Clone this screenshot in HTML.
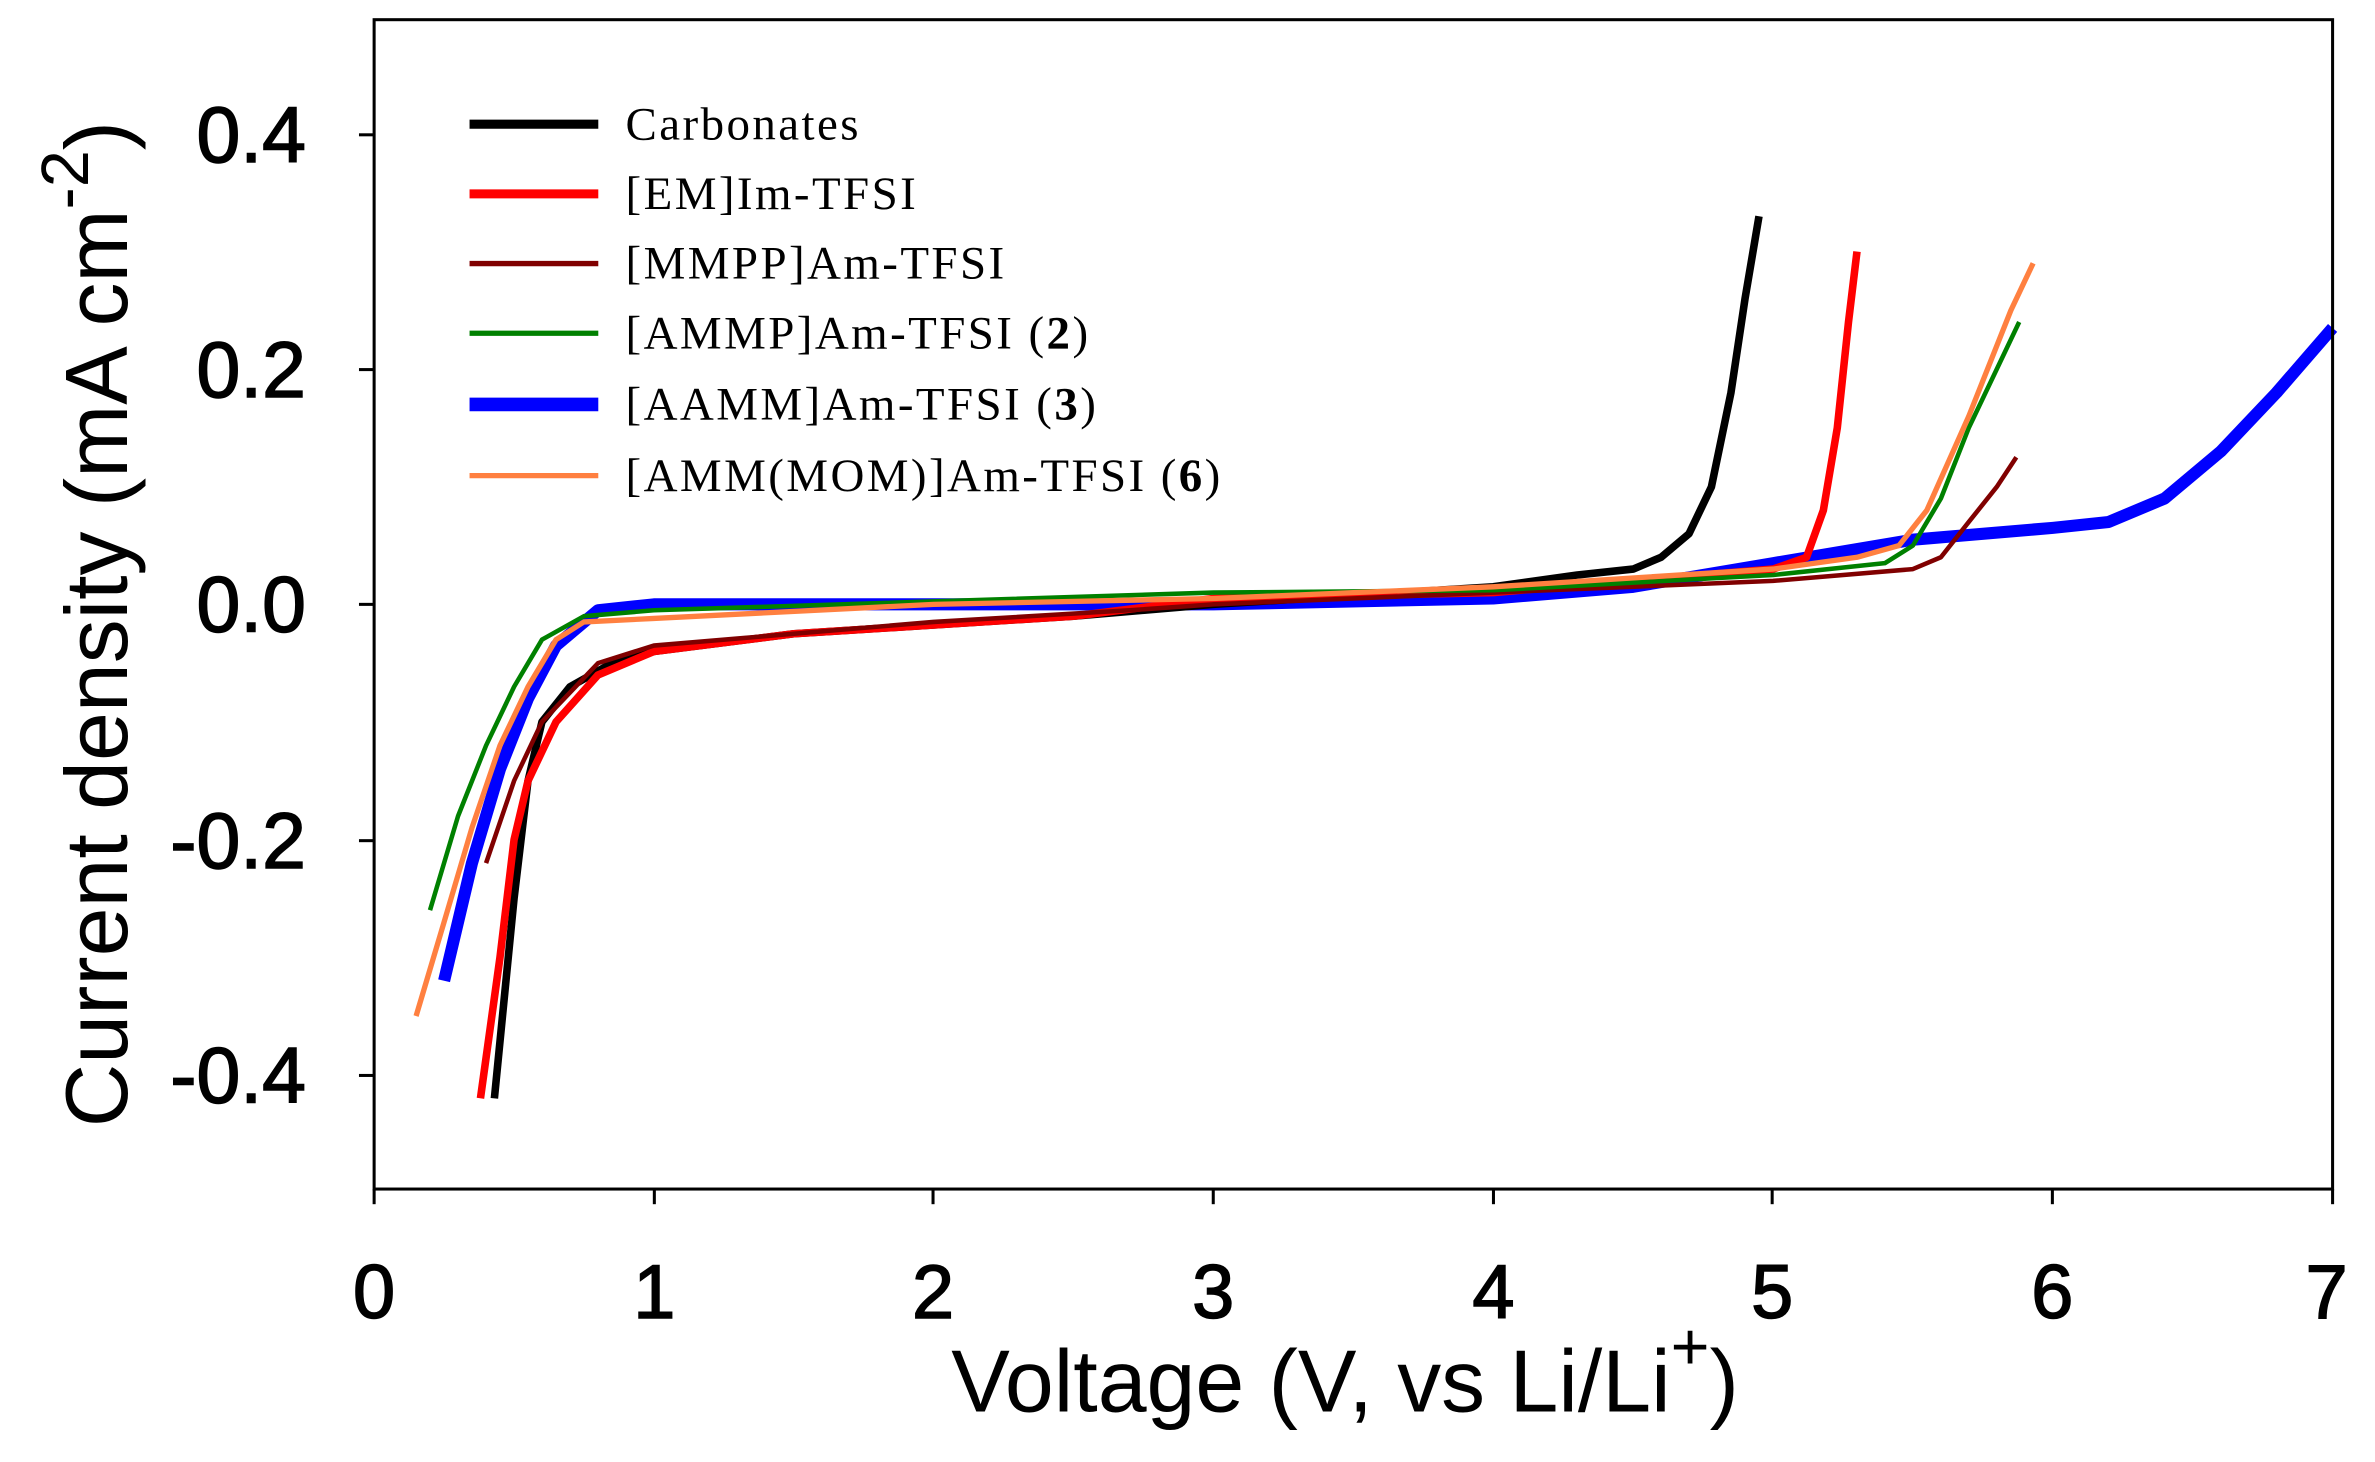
<!DOCTYPE html>
<html><head><meta charset="utf-8"><style>
html,body{margin:0;padding:0;background:#fff;width:2375px;height:1462px;overflow:hidden}
svg{display:block}
</style></head><body>
<svg id="s" width="2375" height="1462" viewBox="0 0 1568 965.2" preserveAspectRatio="none" xmlns="http://www.w3.org/2000/svg">
<rect x="0" y="0" width="1568" height="966" fill="#fff"/>
<g id="curves" fill="none" stroke-linejoin="round" stroke-linecap="butt"></g>
<rect x="247" y="13" width="1293" height="772" fill="none" stroke="#000" stroke-width="2"/>
<g stroke="#000" stroke-width="2">
<line x1="237" y1="89" x2="247" y2="89"/><line x1="237" y1="244" x2="247" y2="244"/><line x1="237" y1="399" x2="247" y2="399"/><line x1="237" y1="555" x2="247" y2="555"/><line x1="237" y1="710" x2="247" y2="710"/>
<line x1="247" y1="785" x2="247" y2="795"/><line x1="432" y1="785" x2="432" y2="795"/><line x1="616" y1="785" x2="616" y2="795"/><line x1="801" y1="785" x2="801" y2="795"/><line x1="986" y1="785" x2="986" y2="795"/><line x1="1170" y1="785" x2="1170" y2="795"/><line x1="1355" y1="785" x2="1355" y2="795"/><line x1="1540" y1="785" x2="1540" y2="795"/>
</g>
<g font-family="Liberation Sans, sans-serif" font-size="52" fill="#000" stroke="#000" stroke-width="1" text-anchor="end">
<text x="202" y="107">0.4</text><text x="202" y="262">0.2</text><text x="202" y="417">0.0</text><text x="202" y="573">-0.2</text><text x="202" y="728">-0.4</text>
</g>
<g font-family="Liberation Sans, sans-serif" font-size="50" fill="#000" stroke="#000" stroke-width="1" text-anchor="middle">
<text x="247" y="870">0</text><text x="432" y="870">1</text><text x="616" y="870">2</text><text x="801" y="870">3</text><text x="986" y="870">4</text><text x="1170" y="870">5</text><text x="1355" y="870">6</text><text x="1536" y="870">7</text>
</g>
<text x="888" y="932" font-family="Liberation Sans, sans-serif" font-size="58" text-anchor="middle">Voltage (V, vs Li/Li<tspan font-size="44" dy="-28">+</tspan><tspan dy="28">)</tspan></text>
<text transform="translate(84,412) rotate(-90)" font-family="Liberation Sans, sans-serif" font-size="58" text-anchor="middle">Current density (mA cm<tspan font-size="44" dy="-26">-2</tspan><tspan dy="26">)</tspan></text>
<g font-family="Liberation Serif, serif" font-size="31" letter-spacing="1.6" fill="#000">
<line x1="310" y1="82" x2="395" y2="82" stroke="#000" stroke-width="6"/><text x="413" y="92">Carbonates</text>
<line x1="310" y1="128" x2="395" y2="128" stroke="#ff0000" stroke-width="6"/><text x="413" y="138">[EM]Im-TFSI</text>
<line x1="310" y1="174" x2="395" y2="174" stroke="#800000" stroke-width="3.5"/><text x="413" y="184">[MMPP]Am-TFSI</text>
<line x1="310" y1="220" x2="395" y2="220" stroke="#008000" stroke-width="3.5"/><text x="413" y="230">[AMMP]Am-TFSI (<tspan font-weight="bold">2</tspan>)</text>
<line x1="310" y1="267" x2="395" y2="267" stroke="#0000ff" stroke-width="9"/><text x="413" y="277">[AAMM]Am-TFSI (<tspan font-weight="bold">3</tspan>)</text>
<line x1="310" y1="314" x2="395" y2="314" stroke="#ff8040" stroke-width="3.5"/><text x="413" y="324">[AMM(MOM)]Am-TFSI (<tspan font-weight="bold">6</tspan>)</text>
</g>
</svg>
<script>
var X=function(v){return 247+v*184.71},Y=function(c){return 399-c*776.5};
var S=[
["#0000ff",8,[[0.25,-0.32],[0.35,-0.22],[0.45,-0.14],[0.55,-0.08],[0.65,-0.035],[0.8,-0.005],[1,0],[3,0],[4,0.005],[4.5,0.015],[5,0.035],[5.5,0.055],[6,0.065],[6.2,0.07],[6.4,0.09],[6.6,0.13],[6.8,0.18],[7,0.235]]],
["#000000",5,[[0.43,-0.42],[0.5,-0.25],[0.55,-0.15],[0.6,-0.1],[0.7,-0.07],[0.85,-0.05],[1,-0.04],[1.5,-0.025],[2.5,-0.01],[3,0],[4,0.015],[4.3,0.025],[4.5,0.03],[4.6,0.04],[4.7,0.06],[4.78,0.1],[4.85,0.18],[4.9,0.26],[4.95,0.33]]],
["#ff0000",5,[[0.38,-0.42],[0.45,-0.3],[0.5,-0.2],[0.55,-0.15],[0.65,-0.1],[0.8,-0.06],[1,-0.04],[1.5,-0.025],[2.5,-0.01],[3,0.005],[4,0.01],[5,0.03],[5.12,0.04],[5.18,0.08],[5.23,0.15],[5.27,0.24],[5.3,0.3]]],
["#800000",3,[[0.4,-0.22],[0.5,-0.15],[0.6,-0.1],[0.8,-0.05],[1,-0.035],[2,-0.015],[2.7,-0.005],[3,0],[4,0.01],[5,0.02],[5.5,0.03],[5.6,0.04],[5.7,0.07],[5.8,0.1],[5.87,0.125]]],
["#008000",3,[[0.2,-0.26],[0.3,-0.18],[0.4,-0.12],[0.5,-0.07],[0.6,-0.03],[0.75,-0.01],[1,-0.005],[3,0.01],[4,0.012],[5,0.025],[5.4,0.035],[5.5,0.05],[5.6,0.09],[5.7,0.15],[5.8,0.2],[5.88,0.24]]],
["#ff8040",3.5,[[0.15,-0.35],[0.25,-0.27],[0.35,-0.19],[0.45,-0.12],[0.55,-0.07],[0.65,-0.03],[0.75,-0.015],[1,-0.012],[2,0],[3,0.005],[4,0.015],[5,0.03],[5.3,0.04],[5.45,0.05],[5.55,0.08],[5.7,0.16],[5.85,0.25],[5.93,0.29]]]
];
var g=document.getElementById("curves");
S.forEach(function(s){var p=document.createElementNS("http://www.w3.org/2000/svg","polyline");
p.setAttribute("points",s[2].map(function(q){return X(q[0]).toFixed(1)+","+Y(q[1]).toFixed(1)}).join(" "));
p.setAttribute("stroke",s[0]);p.setAttribute("stroke-width",s[1]);g.appendChild(p);});
</script>
</body></html>
